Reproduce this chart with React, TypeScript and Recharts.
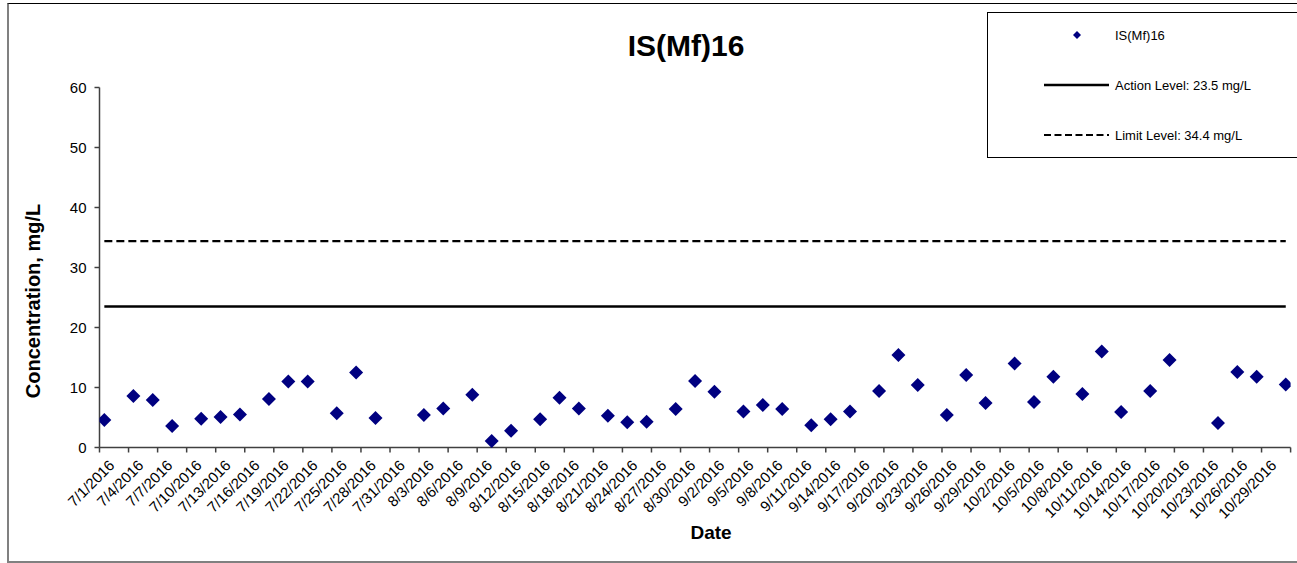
import React from 'react';
import { ComposedChart, Scatter, XAxis, YAxis, ReferenceLine } from 'recharts';

const seriesName = 'IS(Mf)16';
const chartTitle = 'IS(Mf)16';
const yAxisTitle = 'Concentration, mg/L';
const xAxisTitle = 'Date';

const actionLevel = 23.5;
const limitLevel = 34.4;
const actionLabel = 'Action Level: 23.5 mg/L';
const limitLabel = 'Limit Level: 34.4 mg/L';

const startDate = '7/1/2016';
const categoryCount = 123; // 7/1/2016 .. 10/31/2016

const sampleDates = [
  '7/1/2016', '7/4/2016', '7/6/2016', '7/8/2016', '7/11/2016', '7/13/2016', '7/15/2016',
  '7/18/2016', '7/20/2016', '7/22/2016', '7/25/2016', '7/27/2016', '7/29/2016', '8/3/2016',
  '8/5/2016', '8/8/2016', '8/10/2016', '8/12/2016', '8/15/2016', '8/17/2016', '8/19/2016',
  '8/22/2016', '8/24/2016', '8/26/2016', '8/29/2016', '8/31/2016', '9/2/2016', '9/5/2016',
  '9/7/2016', '9/9/2016', '9/12/2016', '9/14/2016', '9/16/2016', '9/19/2016', '9/21/2016',
  '9/23/2016', '9/26/2016', '9/28/2016', '9/30/2016', '10/3/2016', '10/5/2016', '10/7/2016',
  '10/10/2016', '10/12/2016', '10/14/2016', '10/17/2016', '10/19/2016', '10/24/2016',
  '10/26/2016', '10/28/2016', '10/31/2016',
];

const concentrations = [
  4.6, 8.6, 7.9, 3.6, 4.8, 5.1, 5.5, 8.1, 11.0, 11.0, 5.7, 12.5, 4.9, 5.4, 6.5, 8.8, 1.1,
  2.8, 4.7, 8.3, 6.5, 5.3, 4.2, 4.3, 6.4, 11.1, 9.3, 6.0, 7.1, 6.4, 3.7, 4.7, 6.0, 9.4, 15.4,
  10.4, 5.4, 12.1, 7.4, 14.0, 7.6, 11.8, 8.9, 16.0, 5.9, 9.4, 14.6, 4.1, 12.6, 11.8, 10.5,
];

const xTickLabels = [
  '7/1/2016', '7/4/2016', '7/7/2016', '7/10/2016', '7/13/2016', '7/16/2016', '7/19/2016',
  '7/22/2016', '7/25/2016', '7/28/2016', '7/31/2016', '8/3/2016', '8/6/2016', '8/9/2016',
  '8/12/2016', '8/15/2016', '8/18/2016', '8/21/2016', '8/24/2016', '8/27/2016', '8/30/2016',
  '9/2/2016', '9/5/2016', '9/8/2016', '9/11/2016', '9/14/2016', '9/17/2016', '9/20/2016',
  '9/23/2016', '9/26/2016', '9/29/2016', '10/2/2016', '10/5/2016', '10/8/2016', '10/11/2016',
  '10/14/2016', '10/17/2016', '10/20/2016', '10/23/2016', '10/26/2016', '10/29/2016',
];
const xTickStep = 3;

const yTicks = [0, 10, 20, 30, 40, 50, 60];

const FONT = 'Arial, "Liberation Sans", sans-serif';
const NAVY = '#000080';
const AXIS = '#404040';

function parseDate(s: string) {
  const [m, d, y] = s.split('/').map(Number);
  return Date.UTC(y, m - 1, d);
}
function dayIndex(s: string) {
  return Math.round((parseDate(s) - parseDate(startDate)) / 86400000);
}

const scatterData = sampleDates.map((d, i) => ({ x: dayIndex(d) + 0.5, y: concentrations[i], date: d }));
const xTickValues: number[] = [];
for (let t = 0; t <= categoryCount; t += xTickStep) xTickValues.push(t);

const Diamond = (props: any) => {
  const { cx, cy } = props;
  if (cx == null || cy == null) return null;
  const r = 7;
  return <path d={`M${cx},${cy - r}L${cx + r},${cy}L${cx},${cy + r}L${cx - r},${cy}Z`} fill={NAVY} />;
};

const XTick = (props: any) => {
  const { x, y, payload } = props;
  const label = xTickLabels[Math.round(payload.value / xTickStep)];
  if (!label) return null;
  const ax = x + 8;
  const ay = y + 4;
  return (
    <text
      x={ax}
      y={ay}
      transform={`rotate(-45, ${ax}, ${ay})`}
      textAnchor="end"
      dominantBaseline="hanging"
      fontSize={15}
      fontFamily={FONT}
      fill="#000"
    >
      {label}
    </text>
  );
};

export default function App() {
  return (
    <div style={{ position: 'absolute', left: 0, top: 0, width: 1297, height: 563, background: '#fff', overflow: 'hidden', fontFamily: FONT }}>
      <div style={{ position: 'absolute', left: 7, top: 3, width: 1320, height: 557, borderTop: '1px solid #000', borderLeft: '2px solid #808080', borderBottom: '2px solid #808080' }} />
      <ComposedChart
        width={1297}
        height={563}
        data={scatterData}
        margin={{ top: 87.5, right: 6.4, bottom: 55.5, left: 39.5 }}
        style={{ position: 'absolute', left: 0, top: 0 }}
      >
        <XAxis
          type="number"
          dataKey="x"
          domain={[0, categoryCount]}
          ticks={xTickValues}
          interval={0}
          allowDataOverflow
          height={60}
          tickSize={5}
          tickMargin={2}
          axisLine={{ stroke: AXIS, strokeWidth: 1.5 }}
          tickLine={{ stroke: AXIS, strokeWidth: 1.5 }}
          tick={<XTick />}
        />
        <YAxis
          type="number"
          dataKey="y"
          domain={[0, 60]}
          ticks={yTicks}
          interval={0}
          width={60}
          tickSize={5}
          tickMargin={8}
          axisLine={{ stroke: AXIS, strokeWidth: 1.5 }}
          tickLine={{ stroke: AXIS, strokeWidth: 1.5 }}
          tick={{ fontSize: 15, fontFamily: FONT, fill: '#000' }}
        />
        <ReferenceLine
          segment={[{ x: 0.5, y: limitLevel }, { x: categoryCount - 0.5, y: limitLevel }]}
          stroke="#000"
          strokeWidth={2.2}
          strokeDasharray="8 4"
        />
        <ReferenceLine
          segment={[{ x: 0.5, y: actionLevel }, { x: categoryCount - 0.5, y: actionLevel }]}
          stroke="#000"
          strokeWidth={2.5}
        />
        <Scatter name={seriesName} data={scatterData} dataKey="y" fill={NAVY} shape={<Diamond />} isAnimationActive={false} />
      </ComposedChart>

      <div style={{ position: 'absolute', left: 686, top: 30, transform: 'translateX(-50%)', fontSize: 30, fontWeight: 'bold', lineHeight: '32px', whiteSpace: 'nowrap' }}>
        {chartTitle}
      </div>
      <div style={{ position: 'absolute', left: 33, top: 301, transform: 'translate(-50%, -50%) rotate(-90deg)', fontSize: 20, fontWeight: 'bold', whiteSpace: 'nowrap', lineHeight: '24px' }}>
        {yAxisTitle}
      </div>
      <div style={{ position: 'absolute', left: 711, top: 533, transform: 'translate(-50%, -50%)', fontSize: 19, fontWeight: 'bold', whiteSpace: 'nowrap', lineHeight: '22px' }}>
        {xAxisTitle}
      </div>

      <div style={{ position: 'absolute', left: 987, top: 12, width: 330, height: 144, border: '1px solid #000', background: '#fff' }}>
        <svg width={330} height={144} style={{ position: 'absolute', left: 0, top: 0 }}>
          <path d="M89,18L93,22L89,26L85,22Z" fill={NAVY} />
          <text x={127} y={22} dominantBaseline="central" fontSize={13} fontFamily={FONT} fill="#000">{seriesName}</text>
          <line x1={56} x2={121} y1={72} y2={72} stroke="#000" strokeWidth={2.5} />
          <text x={127} y={72} dominantBaseline="central" fontSize={13} fontFamily={FONT} fill="#000">{actionLabel}</text>
          <line x1={56} x2={121} y1={122} y2={122} stroke="#000" strokeWidth={2.2} strokeDasharray="7 3.5" />
          <text x={127} y={122} dominantBaseline="central" fontSize={13} fontFamily={FONT} fill="#000">{limitLabel}</text>
        </svg>
      </div>
    </div>
  );
}
